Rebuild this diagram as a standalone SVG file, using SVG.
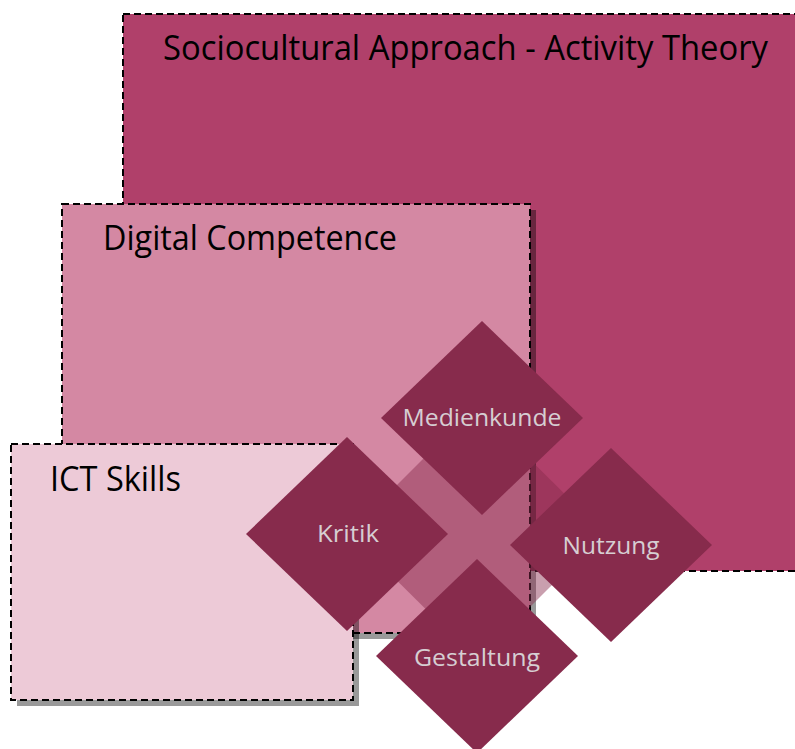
<svg xmlns="http://www.w3.org/2000/svg" width="795" height="749" viewBox="0 0 795 749">
  <style>
    .frame { stroke: #000; stroke-width: 2; stroke-dasharray: 7 4; }
    .shadow { fill: #000; fill-opacity: 0.4; }
    .title { font-family: "Open Sans", "Liberation Sans", sans-serif; font-size: 34px; fill: #000; }
    .dia { fill: #872B4C; }
    .lbl { font-family: "Open Sans", "Liberation Sans", sans-serif; font-size: 24px; fill: #D6CED2; text-anchor: middle; }
  </style>
  <rect width="795" height="749" fill="#fff"/>
  <g id="sociocultural">
    <rect class="frame" x="123" y="14" width="690" height="557" fill="#B0406A"/>
    <text class="title" x="163" y="60" textLength="605" lengthAdjust="spacingAndGlyphs">Sociocultural Approach - Activity Theory</text>
  </g>
  <g id="digital-competence">
    <rect class="shadow" x="68" y="210" width="468" height="429"/>
    <rect class="frame" x="62" y="204" width="468" height="429" fill="#D488A3"/>
    <text class="title" x="103" y="250" textLength="294" lengthAdjust="spacingAndGlyphs">Digital Competence</text>
  </g>
  <g id="ict-skills">
    <rect class="shadow" x="17" y="450" width="342" height="256"/>
    <rect class="frame" x="11" y="444" width="342" height="256" fill="#EDCAD7"/>
    <text class="title" x="50" y="491" textLength="131" lengthAdjust="spacingAndGlyphs">ICT Skills</text>
  </g>
  <g id="center">
    <polygon points="476,406 604,533 477,660 349,533" fill="#872B4C" fill-opacity="0.45"/>
  </g>
  <g id="medienkunde">
    <polygon class="dia" points="482,321 583,418 482,515 381,418"/>
    <text class="lbl" x="482" y="426" textLength="159" lengthAdjust="spacingAndGlyphs">Medienkunde</text>
  </g>
  <g id="kritik">
    <polygon class="dia" points="347,437 448,534 347,631 246,534"/>
    <text class="lbl" x="348" y="542" textLength="62" lengthAdjust="spacingAndGlyphs">Kritik</text>
  </g>
  <g id="nutzung">
    <polygon class="dia" points="611,448 712,545 611,642 510,545"/>
    <text class="lbl" x="611" y="554" textLength="97" lengthAdjust="spacingAndGlyphs">Nutzung</text>
  </g>
  <g id="gestaltung">
    <polygon class="dia" points="477,559 578,656 477,753 376,656"/>
    <text class="lbl" x="477" y="666" textLength="126" lengthAdjust="spacingAndGlyphs">Gestaltung</text>
  </g>
</svg>
